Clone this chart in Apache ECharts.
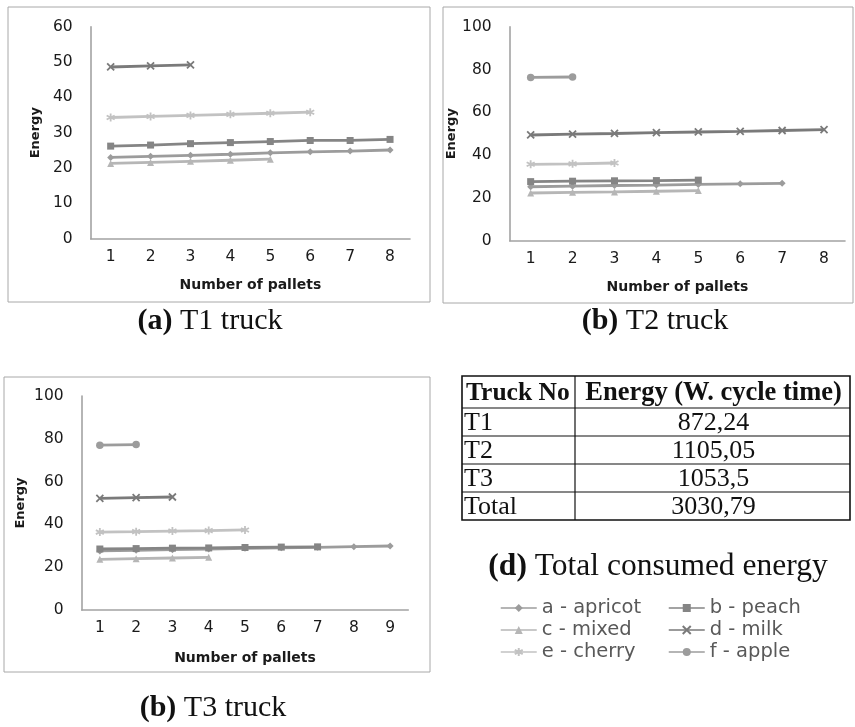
<!DOCTYPE html>
<html><head><meta charset="utf-8">
<script src="https://cdn.jsdelivr.net/npm/echarts@6/dist/echarts.min.js"></script>
<style>html,body{margin:0;padding:0;background:#fff}#c{width:855px;height:727px}</style>
</head><body><div id="c"></div>
<script>
// ---------- data ----------
const seriesNames = ['a - apricot', 'b - peach', 'c - mixed', 'd - milk', 'e - cherry', 'f - apple'];
const palletsT1 = ['1', '2', '3', '4', '5', '6', '7', '8'];
const palletsT2 = ['1', '2', '3', '4', '5', '6', '7', '8'];
const palletsT3 = ['1', '2', '3', '4', '5', '6', '7', '8', '9'];

const t1Apricot = [23.0, 23.3, 23.6, 23.9, 24.3, 24.6, 24.8, 25.1];
const t1Peach   = [26.2, 26.5, 26.9, 27.2, 27.5, 27.8, 27.8, 28.1];
const t1Mixed   = [21.3, 21.6, 21.9, 22.2, 22.5];
const t1Milk    = [48.6, 48.9, 49.2];
const t1Cherry  = [34.3, 34.6, 34.9, 35.2, 35.5, 35.8];
const t1Apple   = [];

const t2Apricot = [25.2, 25.5, 25.8, 26.0, 26.3, 26.6, 26.8];
const t2Peach   = [27.6, 27.8, 28.0, 28.1, 28.3];
const t2Mixed   = [22.3, 22.6, 22.8, 23.1, 23.4];
const t2Milk    = [49.4, 49.8, 50.1, 50.5, 50.8, 51.1, 51.5, 51.9];
const t2Cherry  = [35.7, 35.9, 36.3];
const t2Apple   = [76.3, 76.5];

const t3Apricot = [27.6, 27.9, 28.2, 28.5, 28.8, 29.1, 29.3, 29.6, 29.9];
const t3Peach   = [28.5, 28.7, 28.9, 29.0, 29.2, 29.4, 29.5];
const t3Mixed   = [23.7, 24.0, 24.3, 24.6];
const t3Milk    = [52.2, 52.5, 52.8];
const t3Cherry  = [36.4, 36.6, 36.9, 37.1, 37.4];
const t3Apple   = [77.0, 77.3];

const tableHeader = ['Truck No', 'Energy (W. cycle time)'];
const truckNo = ['T1', 'T2', 'T3', 'Total'];
const truckEnergy = ['872,24', '1105,05', '1053,5', '3030,79'];

const captionLabels = ['(a)', '(b)', '(b)', '(d)'];
const captionTexts = ['T1 truck', 'T2 truck', 'T3 truck', 'Total consumed energy'];

const yAxisName = 'Energy';
const xAxisName = 'Number of pallets';

// ---------- styling ----------
const colors = ['#9c9c9c', '#858585', '#b6b6b6', '#7a7a7a', '#c2c2c2', '#9c9c9c'];
const symbols = [
  'diamond', 'rect', 'triangle',
  'path://M0,0L10,10M10,0L0,10',
  'path://M5,0L5,10M0,2.5L10,7.5M0,7.5L10,2.5',
  'circle'
];
const symbolSizes = [7, 7, 7, 7, 8, 7.5];
const sans = 'DejaVu Sans';
const serif = 'Liberation Serif';

const grids = [
  { left: 90.7, top: 26.7, width: 319.3, height: 212 },
  { left: 509.7, top: 26.7, width: 335.3, height: 214 },
  { left: 81.7, top: 396, width: 326.6, height: 214 }
];
const yMax = [60, 100, 100];
const yInt = [10, 20, 20];
const yNameGap = [49, 47, 55];
const xNameGap = [40, 40, 41];
const cats = [palletsT1, palletsT2, palletsT3];
const dataSets = [
  [t1Apricot, t1Peach, t1Mixed, t1Milk, t1Cherry, t1Apple],
  [t2Apricot, t2Peach, t2Mixed, t2Milk, t2Cherry, t2Apple],
  [t3Apricot, t3Peach, t3Mixed, t3Milk, t3Cherry, t3Apple]
];

const axisLineStyle = { color: '#a3a3a3', width: 1.6 };
const labelColor = '#1a1a1a';
const xAxes = cats.map((c, i) => ({
  type: 'category', gridIndex: i, data: c, boundaryGap: true,
  axisLine: { lineStyle: axisLineStyle }, axisTick: { show: false },
  axisLabel: { color: labelColor, fontSize: 15.5, fontFamily: sans, margin: 10 },
  name: xAxisName, nameLocation: 'middle', nameGap: xNameGap[i],
  nameTextStyle: { color: labelColor, fontSize: 14, fontWeight: 'bold', fontFamily: sans }
}));
const yAxes = grids.map((g, i) => ({
  type: 'value', gridIndex: i, min: 0, max: yMax[i], interval: yInt[i],
  axisLine: { show: true, lineStyle: axisLineStyle }, axisTick: { show: false },
  splitLine: { show: false },
  axisLabel: { color: labelColor, fontSize: 15.5, fontFamily: sans, margin: 18 },
  name: yAxisName, nameLocation: 'middle', nameGap: yNameGap[i], nameRotate: 90,
  nameTextStyle: { color: labelColor, fontSize: 13, fontWeight: 'bold', fontFamily: sans }
}));

const series = [];
dataSets.forEach((set, gi) => {
  set.forEach((vals, si) => {
    series.push({
      type: 'line', name: seriesNames[si], xAxisIndex: gi, yAxisIndex: gi,
      data: vals, symbol: symbols[si], symbolSize: symbolSizes[si], showAllSymbol: true,
      lineStyle: { color: colors[si], width: 2.8 },
      itemStyle: { color: colors[si], borderColor: colors[si], borderWidth: si === 3 || si === 4 ? 1.8 : 0 },
      emphasis: { disabled: true }, animation: false
    });
  });
});

// ---------- graphics: frames, captions, table ----------
const graphic = [];
const frames = [[8, 7, 422, 295], [443, 7, 410, 296], [4, 377, 426, 295]];
frames.forEach(f => graphic.push({
  type: 'rect', shape: { x: f[0], y: f[1], width: f[2], height: f[3] },
  style: { fill: 'none', stroke: '#a8a8a8', lineWidth: 1 }, silent: true, z: -1
}));
const captionPos = [[210, 321], [655, 321], [213, 708], [658, 567]];
const captionSize = [30, 30, 30, 31.5];
captionPos.forEach((p, i) => graphic.push({
  type: 'text', x: p[0], y: p[1], silent: true,
  style: {
    text: '{b|' + captionLabels[i] + '}{n| ' + captionTexts[i] + '}',
    align: 'center', verticalAlign: 'middle',
    rich: {
      b: { fontFamily: serif, fontWeight: 'bold', fontSize: captionSize[i], fill: '#111' },
      n: { fontFamily: serif, fontSize: captionSize[i], fill: '#111' }
    }
  }
}));
// table
const tL = 462, tR = 850, tD = 575;
const rowY = [376, 408, 436, 464, 492, 520];
graphic.push({ type: 'rect', shape: { x: tL, y: rowY[0], width: tR - tL, height: rowY[5] - rowY[0] },
  style: { fill: 'none', stroke: '#111', lineWidth: 1.6 }, silent: true });
for (let r = 1; r < 5; r++) graphic.push({ type: 'line',
  shape: { x1: tL, y1: rowY[r], x2: tR, y2: rowY[r] }, style: { stroke: '#111', lineWidth: 1.2 }, silent: true });
graphic.push({ type: 'line', shape: { x1: tD, y1: rowY[0], x2: tD, y2: rowY[5] },
  style: { stroke: '#111', lineWidth: 1.2 }, silent: true });
const midY = r => (rowY[r] + rowY[r + 1]) / 2;
graphic.push({ type: 'text', x: tL + 4, y: midY(0) + 1, silent: true,
  style: { text: tableHeader[0], fontFamily: serif, fontWeight: 'bold', fontSize: 25.5, fill: '#111', align: 'left', verticalAlign: 'middle' } });
graphic.push({ type: 'text', x: (tD + tR) / 2 + 1, y: midY(0) + 1, silent: true,
  style: { text: tableHeader[1], fontFamily: serif, fontWeight: 'bold', fontSize: 26.5, fill: '#111', align: 'center', verticalAlign: 'middle' } });
truckNo.forEach((t, i) => {
  graphic.push({ type: 'text', x: tL + 2, y: midY(i + 1) + 1, silent: true,
    style: { text: t, fontFamily: serif, fontSize: 26, fill: '#111', align: 'left', verticalAlign: 'middle' } });
  graphic.push({ type: 'text', x: (tD + tR) / 2 + 1, y: midY(i + 1) + 1, silent: true,
    style: { text: truckEnergy[i], fontFamily: serif, fontSize: 26, fill: '#111', align: 'center', verticalAlign: 'middle' } });
});

const legendBase = {
  orient: 'vertical', itemWidth: 36, itemHeight: 10, itemGap: 2,
  textStyle: { color: '#595959', fontSize: 19.5, fontFamily: sans },
  lineStyle: { width: 1.5 }, selectedMode: false
};
const legends = [
  Object.assign({}, legendBase, { left: 495, top: 593, data: [seriesNames[0], seriesNames[2], seriesNames[4]] }),
  Object.assign({}, legendBase, { left: 663, top: 593, data: [seriesNames[1], seriesNames[3], seriesNames[5]] })
];

const chart = echarts.init(document.getElementById('c'), null, { renderer: 'canvas' });
chart.setOption({
  backgroundColor: '#fff', animation: false,
  grid: grids, xAxis: xAxes, yAxis: yAxes, series, legend: legends, graphic
});
</script></body></html>
